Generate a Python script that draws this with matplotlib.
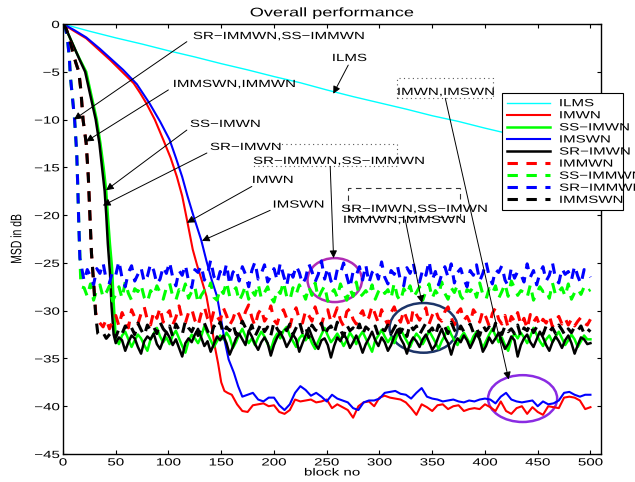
import numpy as np
import matplotlib
matplotlib.use('Agg')
import matplotlib.pyplot as plt
import matplotlib.patheffects as pe
from matplotlib.patches import Ellipse, Rectangle
from matplotlib.transforms import Affine2D

plt.rcParams['font.family'] = 'Liberation Sans'
plt.rcParams['font.size'] = 7.5

# ---------------- data ----------------
labels = ['ILMS', 'IMWN', 'SS−IMWN', 'IMSWN', 'SR−IMWN',
          'IMMWN', 'SS−IMMWN', 'SR−IMMWN', 'IMMSWN']

ilms_x = [0, 25, 50, 75, 100, 125, 150, 175, 200, 225, 250, 275, 300, 325, 350,
          375, 400, 425, 450, 475, 500]
ilms_y = [0, -0.75, -1.45, -2.1, -2.8, -3.45, -4.15, -4.8, -5.5, -6.15, -6.9,
          -7.6, -8.25, -8.9, -9.6, -10.2, -10.9, -11.55, -12.2, -12.85, -13.5]

# IMWN (solid red): descent, then steady values every 5 blocks from 160
imwn_x = [0, 10, 22, 33, 45, 56, 67, 73, 79, 87, 95, 102, 108, 113, 117, 123,
          127, 132, 136, 140, 144, 147, 150, 153, 156]
imwn_y = [0, -0.7, -1.5, -2.6, -3.8, -5.0, -6.2, -7.2, -8.3, -10.0, -12.1,
          -14.0, -16.0, -18.0, -20.2, -23.6, -25.2, -27.0, -28.5, -31.0, -33.8,
          -35.5, -37.5, -38.4, -38.6]
imwn_start, imwn_step = 160, 5
imwn_tail = [-38.8, -39.8, -40.5, -40.6, -39.9, -39.8, -39.7, -40.0, -39.9, -40.6,
             -40.8, -40.4, -39.3, -39.5, -39.4, -39.3, -39.6, -39.5, -39.3, -40.2,
             -39.8, -40.1, -40.4, -41.2, -40.0, -39.6, -39.5, -40.0, -39.1, -38.9,
             -39.1, -39.2, -39.3, -39.6, -40.2, -40.9, -39.8, -40.1, -40.5, -39.9,
             -39.8, -40.3, -40.0, -39.9, -40.5, -40.3, -40.2, -40.3, -39.8, -40.1,
             -40.5, -39.5, -40.5, -40.8, -40.2, -40.0, -40.8, -40.1, -40.6, -40.9,
             -40.0, -40.1, -40.2, -39.1, -39.0, -39.1, -39.4, -40.3, -40.1]

# IMSWN (solid blue)
imswn_x = [0, 10, 22, 35, 47, 57, 70, 82, 92, 101, 107, 113, 118, 124, 131, 136,
           141, 146, 150, 153, 157, 162, 166]
imswn_y = [0, -0.6, -1.4, -2.6, -3.8, -4.8, -6.3, -8.3, -10.2, -12.1, -14.0,
           -16.0, -18.0, -20.2, -22.6, -24.8, -26.8, -28.5, -31.0, -33.0, -35.1,
           -36.5, -37.9]
imswn_start, imswn_step = 170, 5
imswn_tail = [-39.0, -38.8, -38.6, -39.3, -39.5, -39.1, -39.1, -39.9, -40.4, -39.8,
              -38.6, -37.9, -38.3, -38.9, -38.6, -39.0, -39.5, -38.8, -39.2, -39.4,
              -39.6, -40.2, -40.4, -39.6, -39.4, -39.4, -39.2, -38.6, -38.5, -38.4,
              -38.7, -38.8, -39.2, -38.6, -38.1, -39.0, -39.2, -39.3, -39.5, -39.4,
              -39.3, -39.5, -39.6, -39.4, -39.5, -39.3, -39.2, -39.3, -39.7, -39.0,
              -38.6, -39.3, -39.5, -39.6, -39.5, -39.4, -40.0, -39.5, -39.8, -39.7,
              -39.4, -38.6, -38.5, -38.8, -39.0, -38.8, -38.8]

# SS-IMWN (solid green), steady values every 3 blocks from 50
ss_imwn_x = [0, 4, 8, 12, 16, 22, 27, 32, 35.5, 38.5, 41, 42.5, 44.5, 46.5, 48]
ss_imwn_y = [0, -0.8, -1.8, -2.8, -3.7, -5.0, -7.5, -10.0, -12.5, -15.0, -17.5,
             -20.0, -23.0, -25.5, -29.0]
ss_imwn_start, ss_imwn_step = 50, 3
ss_imwn_tail = [-32.9, -33.5, -32.6, -32.2, -33.0, -33.8, -33.1, -32.5, -32.9, -33.6,
                -34.2, -33.0, -32.4, -31.8, -32.7, -33.3, -32.8, -33.5, -32.6, -32.1,
                -32.9, -33.7, -34.4, -33.2, -32.5, -32.9, -33.4, -32.7, -31.6, -32.4,
                -33.1, -33.8, -33.2, -32.6, -33.0, -32.3, -32.8, -33.9, -33.3, -32.5,
                -31.9, -32.7, -33.4, -32.9, -33.6, -32.8, -32.2, -32.7, -33.5, -34.1,
                -33.0, -32.4, -32.9, -32.1, -31.7, -32.6, -33.2, -33.8, -32.9, -32.5,
                -33.1, -32.6, -33.4, -34.0, -33.2, -32.5, -31.8, -32.6, -33.3, -32.9,
                -32.4, -33.0, -33.7, -33.1, -32.3, -32.8, -33.5, -32.7, -32.2, -32.9,
                -33.6, -34.3, -33.1, -32.6, -32.0, -32.7, -33.3, -32.8, -33.4, -32.5,
                -31.9, -32.6, -33.2, -33.8, -33.0, -32.4, -32.8, -33.5, -32.9, -32.1,
                -32.7, -33.3, -34.0, -33.2, -32.6, -31.7, -32.5, -33.1, -33.6, -32.8,
                -32.3, -32.9, -33.5, -32.7, -32.2, -33.0, -33.9, -33.2, -32.5, -31.9,
                -32.6, -33.3, -32.8, -33.6, -34.2, -33.0, -32.4, -32.9, -32.3, -32.8,
                -33.4, -32.7, -31.8, -32.5, -33.2, -33.7, -33.0, -32.6, -33.3, -32.7,
                -32.2, -32.9, -33.6, -33.1, -32.5, -33.0, -33.8, -33.2, -32.6, -33.0,
                -33.0]

# SR-IMWN (solid black)
sr_imwn_x = [0, 4, 8, 12, 16, 21, 26, 31, 34.5, 37, 39.5, 41, 42.5, 44.5, 46, 48]
sr_imwn_y = [0, -0.8, -1.8, -2.8, -3.8, -5.0, -7.5, -10.0, -12.5, -15.0, -17.5,
             -20.0, -23.0, -26.0, -29.5, -32.5]
sr_imwn_start, sr_imwn_step = 50, 3
sr_imwn_tail = [-33.4, -32.8, -33.1, -34.2, -33.3, -32.6, -32.9, -33.8, -34.5, -33.2,
                -32.7, -33.0, -32.4, -33.5, -34.0, -33.1, -32.2, -32.8, -33.6, -33.0,
                -33.9, -34.8, -33.4, -32.9, -33.3, -32.5, -31.9, -32.8, -33.7, -33.2,
                -34.3, -33.5, -32.7, -33.1, -32.6, -33.4, -34.6, -33.8, -32.9, -32.4,
                -33.0, -33.6, -32.1, -32.7, -33.5, -34.1, -33.3, -32.8, -33.4, -34.7,
                -33.6, -32.8, -32.3, -32.9, -33.8, -33.2, -32.5, -33.0, -34.3, -33.4,
                -32.6, -31.8, -32.7, -33.5, -34.0, -33.1, -32.9, -33.6, -34.9, -33.7,
                -32.8, -33.2, -32.4, -33.0, -33.9, -33.3, -32.6, -33.4, -34.4, -33.5,
                -32.9, -32.2, -33.1, -33.7, -32.8, -33.3, -34.2, -33.6, -32.7, -32.0,
                -32.9, -33.5, -34.5, -33.4, -32.8, -33.2, -33.8, -33.0, -32.5, -33.3,
                -34.1, -33.6, -32.7, -31.9, -32.8, -33.4, -34.6, -33.5, -32.9, -33.3,
                -32.6, -33.1, -33.9, -33.2, -32.4, -33.0, -34.3, -33.7, -32.8, -33.4,
                -32.9, -32.3, -33.2, -34.0, -33.5, -32.7, -33.1, -34.8, -33.6, -32.9,
                -32.5, -33.3, -33.8, -33.0, -32.2, -32.8, -33.6, -34.2, -33.3, -32.7,
                -33.2, -33.9, -33.1, -32.6, -33.4, -34.5, -33.6, -32.8, -33.0, -33.5,
                -33.4]

# IMMWN (dashed red), steady values every 3 blocks from 35
immwn_x = [0, 3, 6, 9, 12, 15, 17, 19, 22, 24, 25.5, 27, 29, 31, 33]
immwn_y = [0, -0.5, -1.5, -2.8, -4.0, -5.0, -7.0, -10.0, -12.5, -16.0, -20.0,
           -24.0, -27.0, -30.2, -31.0]
immwn_start, immwn_step = 35, 3
immwn_tail = [-31.3, -31.7, -30.9, -31.9, -31.1, -30.5, -31.6, -30.2, -31.0, -31.8,
              -29.9, -30.7, -31.4, -30.3, -29.6, -31.0, -31.5, -30.1, -30.8, -29.7,
              -31.2, -30.4, -30.0, -31.5, -30.7, -29.5, -30.9, -31.3, -30.2, -29.8,
              -31.0, -31.6, -30.3, -29.6, -30.8, -31.4, -30.0, -30.6, -31.1, -29.7,
              -30.5, -31.5, -30.9, -29.9, -30.4, -31.2, -30.1, -29.4, -30.7, -31.6,
              -30.3, -29.8, -31.1, -30.6, -29.5, -31.0, -31.4, -30.2, -29.9, -30.8,
              -31.7, -30.4, -29.7, -30.9, -31.3, -30.0, -30.5, -31.1, -29.6, -30.7,
              -31.5, -30.3, -29.9, -31.2, -30.6, -29.7, -31.0, -31.6, -30.1, -29.8,
              -30.9, -31.4, -30.5, -30.0, -31.1, -30.7, -29.5, -30.4, -31.3, -29.9,
              -30.8, -31.5, -30.2, -29.6, -30.6, -31.2, -30.0, -30.9, -31.7, -29.8,
              -30.4, -31.0, -30.3, -29.7, -31.4, -30.5, -29.9, -30.8, -31.1, -30.1,
              -29.6, -30.7, -31.5, -30.2, -29.8, -31.0, -30.6, -31.3, -29.9, -30.4,
              -31.2, -30.0, -30.7, -31.6, -30.3, -29.7, -30.9, -31.4, -30.5, -31.8,
              -30.6, -31.1, -30.2, -31.5, -30.8, -31.9, -30.4, -31.2, -30.7, -31.6,
              -30.9, -31.3, -30.5, -31.7, -31.0, -30.6, -31.4, -30.8, -31.5, -30.9,
              -31.6, -31.1, -30.7, -31.3, -31.5, -30.9]

# SS-IMMWN (dashed green), steady values every 3 blocks from 20
ss_immwn_x = [0, 2, 4, 6, 7, 9, 11, 13, 14, 15, 17]
ss_immwn_y = [0, -0.3, -1.3, -3.5, -5.5, -7.8, -10.0, -13.5, -17.0, -21.0, -27.5]
ss_immwn_start, ss_immwn_step = 20, 3
ss_immwn_tail = [-27.6, -28.5, -27.2, -28.9, -27.8, -27.3, -28.6, -28.1, -27.4, -29.0,
                 -28.3, -27.5, -28.7, -27.0, -28.2, -28.9, -27.7, -28.0, -27.3, -28.6,
                 -29.1, -27.9, -28.4, -27.4, -28.1, -28.8, -27.6, -27.1, -28.5, -28.9,
                 -27.8, -28.3, -27.2, -28.7, -28.0, -27.5, -29.2, -28.4, -27.9, -28.1,
                 -27.1, -28.6, -28.9, -27.7, -28.2, -27.0, -28.5, -28.0, -27.6, -29.0,
                 -28.3, -27.4, -28.8, -27.9, -28.4, -27.2, -28.7, -28.1, -27.5, -28.6,
                 -29.1, -27.8, -28.2, -27.0, -28.5, -28.9, -27.6, -28.3, -27.3, -28.0,
                 -28.8, -27.5, -28.4, -27.1, -28.7, -28.0, -27.4, -29.0, -28.2, -27.8,
                 -28.6, -27.2, -28.1, -28.9, -27.7, -28.5, -27.0, -28.6, -28.3, -27.9,
                 -28.4, -27.3, -28.8, -28.0, -27.6, -28.2, -27.8, -28.7, -27.1, -28.5,
                 -29.0, -27.7, -28.3, -27.4, -28.6, -28.1, -27.5, -28.9, -28.0, -27.2,
                 -28.7, -27.9, -28.4, -27.0, -28.2, -28.8, -27.6, -28.1, -27.3, -28.5,
                 -28.9, -27.8, -28.0, -27.5, -28.6, -27.1, -28.3, -28.8, -27.7, -28.2,
                 -27.4, -28.7, -28.0, -27.2, -28.5, -26.9, -27.6, -28.4, -27.9, -28.1,
                 -28.6, -27.3, -28.9, -28.2, -27.5, -28.0, -27.8, -28.7, -27.1, -28.4,
                 -28.0, -27.6, -28.5, -27.2, -28.8, -28.1, -27.7, -28.3, -27.5, -28.0,
                 -27.8]

# SR-IMMWN (dashed blue)
sr_immwn_x = [0, 2, 4, 6, 7, 9, 11, 13, 14, 15, 16]
sr_immwn_y = [0, -0.3, -1.3, -3.5, -5.5, -7.8, -10.0, -13.5, -17.0, -21.0, -24.5]
sr_immwn_start, sr_immwn_step = 20, 3
sr_immwn_tail = [-26.9, -25.7, -26.4, -27.3, -25.6, -26.1, -25.0, -26.8, -27.1, -25.9,
                 -26.3, -24.8, -26.6, -27.5, -26.0, -25.3, -26.9, -26.2, -25.5, -27.0,
                 -26.4, -25.1, -25.8, -27.2, -26.7, -25.4, -26.1, -24.9, -26.5, -27.4,
                 -25.8, -26.3, -25.2, -26.9, -27.6, -25.7, -26.0, -25.3, -26.8, -26.2,
                 -24.7, -26.4, -27.1, -25.9, -26.6, -25.1, -27.3, -26.0, -25.6, -26.9,
                 -25.4, -26.2, -27.5, -25.8, -24.9, -26.7, -26.1, -25.2, -27.0, -26.4,
                 -25.6, -26.8, -25.0, -26.3, -27.4, -25.7, -26.5, -25.3, -26.0, -27.2,
                 -26.6, -25.1, -25.9, -27.0, -26.2, -24.8, -26.7, -25.5, -26.9, -27.3,
                 -25.7, -26.1, -25.0, -26.4, -27.6, -25.9, -26.3, -25.4, -26.8, -25.2,
                 -27.1, -26.0, -25.6, -26.7, -24.9, -26.5, -27.2, -25.8, -26.2, -25.3,
                 -26.9, -27.4, -25.5, -26.1, -25.0, -26.6, -27.0, -25.7, -26.3, -24.8,
                 -26.8, -25.9, -27.3, -26.2, -25.4, -26.5, -25.1, -27.1, -26.0, -25.6,
                 -26.7, -27.5, -25.8, -26.3, -25.2, -26.9, -26.1, -24.9, -26.4, -27.2,
                 -25.7, -26.0, -25.3, -26.8, -27.4, -25.5, -26.6, -25.9, -26.2, -27.0,
                 -25.1, -26.5, -25.8, -27.3, -26.1, -25.4, -26.9, -26.3, -25.0, -26.7,
                 -27.1, -25.6, -26.2, -25.9, -26.8, -25.3, -26.4, -27.2, -25.7, -26.0,
                 -26.5]

# IMMSWN (dashed black)
immswn_x = [0, 3, 6, 9, 12, 15, 17, 19, 22, 24, 25.5, 27, 29, 31, 33]
immswn_y = [0, -0.5, -1.5, -2.8, -4.0, -5.0, -7.0, -10.0, -12.5, -16.0, -20.0,
            -24.0, -27.0, -30.5, -32.4]
immswn_start, immswn_step = 35, 3
immswn_tail = [-32.6, -32.3, -32.9, -32.5, -32.1, -32.8, -31.9, -32.4, -31.6, -32.2,
               -31.8, -32.5, -31.3, -32.0, -32.6, -31.5, -32.1, -31.7, -32.4, -31.2,
               -31.9, -32.3, -31.6, -32.7, -31.4, -32.0, -32.5, -31.1, -31.8, -32.2,
               -31.5, -32.6, -31.9, -31.3, -32.1, -32.8, -31.6, -32.0, -31.2, -32.4,
               -31.7, -32.1, -31.4, -32.5, -31.9, -31.1, -31.8, -32.3, -31.5, -32.7,
               -32.0, -31.3, -32.2, -31.7, -32.6, -31.2, -31.9, -32.4, -31.6, -32.1,
               -31.4, -32.5, -31.8, -31.1, -32.3, -31.7, -32.8, -31.5, -32.0, -32.2,
               -31.3, -32.6, -31.9, -31.6, -32.4, -31.2, -32.0, -32.7, -31.5, -32.1,
               -31.8, -32.3, -31.4, -32.5, -31.7, -32.0, -32.2, -31.6, -32.6, -31.9,
               -32.1, -31.5, -32.4, -31.8, -31.2, -32.3, -31.7, -32.7, -31.4, -32.0,
               -31.6, -32.5, -31.9, -31.3, -32.2, -31.8, -32.6, -31.5, -32.1, -31.7,
               -32.4, -31.2, -32.0, -32.5, -31.6, -32.2, -31.9, -31.4, -32.3, -31.8,
               -32.6, -31.5, -32.1, -31.7, -32.4, -31.3, -32.0, -32.5, -31.6, -32.2,
               -31.9, -32.4, -31.5, -32.7, -31.8, -32.1, -31.4, -32.3, -31.7, -32.0,
               -32.5, -31.6, -32.2, -31.8, -32.4, -31.5, -32.0, -32.6, -31.9, -32.3,
               -31.7, -32.1, -31.6, -32.4, -31.9, -32.2]

xticks = list(range(0, 501, 50))
yticks = list(range(-45, 1, 5))


class Widen(pe.AbstractPathEffect):
    """draw text stretched horizontally (the reference glyphs are wide and flat)"""
    def __init__(self, sx=1.45, anchor='left'):
        super().__init__()
        self.sx = sx
        self.anchor = anchor

    def draw_path(self, renderer, gc, tpath, affine, rgbFace=None):
        ext = tpath.get_extents(affine)
        if self.anchor == 'left':
            cx = ext.x0
        elif self.anchor == 'right':
            cx = ext.x1
        else:
            cx = 0.5 * (ext.x0 + ext.x1)
        wide = affine + Affine2D().translate(-cx, 0).scale(self.sx, 1).translate(cx, 0)
        renderer.draw_path(gc, tpath, wide, rgbFace)


def series(head_x, head_y, start=None, step=None, tail=None):
    if tail is None:
        return np.array(head_x, float), np.array(head_y, float)
    tx = start + step * np.arange(len(tail))
    return np.r_[head_x, tx], np.r_[head_y, tail]


curves = [series(ilms_x, ilms_y),
          series(imwn_x, imwn_y, imwn_start, imwn_step, imwn_tail),
          series(ss_imwn_x, ss_imwn_y, ss_imwn_start, ss_imwn_step, ss_imwn_tail),
          series(imswn_x, imswn_y, imswn_start, imswn_step, imswn_tail),
          series(sr_imwn_x, sr_imwn_y, sr_imwn_start, sr_imwn_step, sr_imwn_tail),
          series(immwn_x, immwn_y, immwn_start, immwn_step, immwn_tail),
          series(ss_immwn_x, ss_immwn_y, ss_immwn_start, ss_immwn_step, ss_immwn_tail),
          series(sr_immwn_x, sr_immwn_y, sr_immwn_start, sr_immwn_step, sr_immwn_tail),
          series(immswn_x, immswn_y, immswn_start, immswn_step, immswn_tail)]

colors = ['#00ffff', '#ff0000', '#00ff00', '#0000ff', '#000000',
          '#ff0000', '#00ff00', '#0000ff', '#000000']
widths = [1.0, 1.5, 1.8, 1.5, 1.8, 2.2, 2.2, 2.2, 2.2]
dashed = [False] * 5 + [True] * 4

fig = plt.figure(figsize=(6.35, 4.82), dpi=100)
ax = fig.add_axes([63 / 635, 28 / 482, 538 / 635, 430 / 482])

for (x, y), lab, c, w, d in zip(curves, labels, colors, widths, dashed):
    if d:
        ax.plot(x, y, color=c, lw=w, dashes=(3.4, 2.8), label=lab)
    else:
        ax.plot(x, y, color=c, lw=w, label=lab)

ax.set_xlim(0, 510)
ax.set_ylim(-45, 0)
ax.set_xticks(xticks)
ax.set_yticks(yticks)
ax.tick_params(direction='in', top=True, right=True, length=3, width=0.8, pad=2.5)
for s in ax.spines.values():
    s.set_linewidth(1.0)

ax.set_title('Overall performance', pad=5.5)
ax.set_xlabel('block no', labelpad=0)
ax.set_ylabel('MSD in dB')
ax.yaxis.set_label_coords(-0.077, 0.5)

# annotations: (text, text pos, arrow tail, arrow head)
notes = [('SR−IMMWN,SS−IMMWN', (123.3, -1.26), (117.4, -1.85), (10.4, -10.0)),
         ('IMMSWN,IMMWN', (104.4, -6.28), (99.9, -6.9), (21.8, -12.3)),
         ('SS−IMWN', (120.5, -10.46), (117.4, -11.1), (40.8, -17.4)),
         ('SR−IMWN', (139.5, -12.87), (136.4, -13.5), (37.8, -19.0)),
         ('SR−IMMWN,SS−IMMWN', (180.3, -14.33), (253.3, -14.9), (256.5, -24.5)),
         ('IMWN', (179.3, -16.32), (179.0, -17.0), (117.4, -20.8)),
         ('IMSWN', (199.0, -18.9), (196.4, -19.5), (131.7, -22.7)),
         ('ILMS', (255.2, -3.56), (270.4, -4.3), (256.2, -7.3)),
         ('IMWN,IMSWN', (316.9, -7.11), (362.4, -7.77), (422.5, -37.2)),
         ('SR−IMWN,SS−IMWN', (263.8, -19.35), (324.5, -20.5), (340.3, -29.2)),
         ('IMMWN,IMMSWN', (265.7, -20.5), None, None)]

for txt, tp, tail, head in notes:
    t = ax.text(tp[0], tp[1], txt, ha='left', va='center')
    t.set_path_effects([Widen(anchor='left')])
    if tail is not None:
        ax.annotate('', xy=head, xytext=tail,
                    arrowprops=dict(arrowstyle='-|>', color='k', lw=0.7,
                                    mutation_scale=11, shrinkA=0, shrinkB=0))

# dotted / dashed boxes round some labels
ax.plot([203, 316.9, 316.9, 180.3], [-12.55, -12.55, -14.85, -14.85],
        color='0.35', lw=0.8, ls=(0, (1, 3)))
ax.add_patch(Rectangle((316.9, -7.74), 91.1, 2.09, fill=False, ec='0.35',
                       lw=0.8, ls=(0, (1, 3))))
ax.add_patch(Rectangle((270.4, -20.19), 106.3, 3.04, fill=False, ec='0.2',
                       lw=0.8, ls=(0, (5, 4))))

# circles marking regions
ax.add_patch(Ellipse((257.6, -26.8), 51.6, 4.6, fill=False, ec='#b02cb4', lw=1.8))
ax.add_patch(Ellipse((341.8, -31.8), 64.5, 5.2, fill=False, ec='#1c3468', lw=1.8))
ax.add_patch(Ellipse((435.7, -39.2), 65.5, 4.9, fill=False, ec='#8a2be2', lw=1.8))

leg = ax.legend(loc='upper left', bbox_to_anchor=(502 / 635, 1 - 93 / 482),
                bbox_transform=fig.transFigure, borderaxespad=0, fancybox=False,
                edgecolor='k', framealpha=1, borderpad=0.5, labelspacing=0.2,
                handlelength=4.1, handletextpad=0.9)
leg.get_frame().set_linewidth(0.8)
for t in leg.get_texts():
    t.set_path_effects([Widen(anchor='left')])

for t in ax.get_xticklabels():
    t.set_path_effects([Widen(anchor='center')])
for t in ax.get_yticklabels():
    t.set_path_effects([Widen(anchor='right')])
ax.title.set_path_effects([Widen(anchor='center')])
ax.xaxis.label.set_path_effects([Widen(anchor='center')])
ax.yaxis.label.set_path_effects([Widen(anchor='center')])

fig.savefig('out.png', dpi=100)
